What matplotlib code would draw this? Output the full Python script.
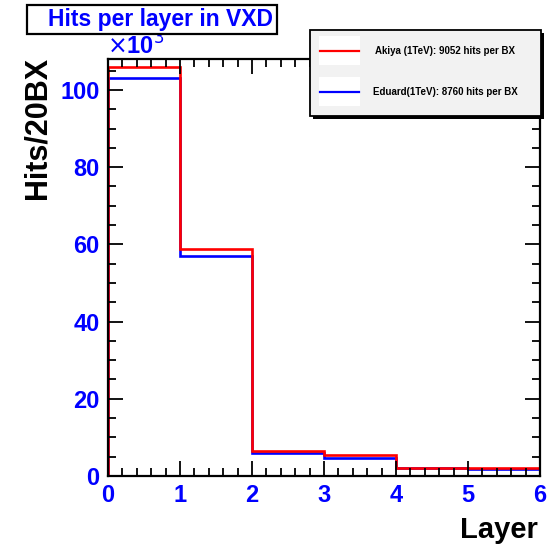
import matplotlib
matplotlib.use("Agg")
import matplotlib.pyplot as plt
from matplotlib.patches import Rectangle
from matplotlib.lines import Line2D
from matplotlib.ticker import MultipleLocator, AutoMinorLocator

plt.rcParams['font.family'] = ['Liberation Sans', 'DejaVu Sans']

edges = [0, 1, 2, 3, 4, 5, 6]
akiya = [105.8, 58.9, 6.55, 5.45, 2.2, 1.95]      # x10^3
eduard = [103.2, 57.1, 5.9, 4.7, 2.0, 1.8]        # x10^3
labels = ["Akiya (1TeV): 9052 hits per BX", "Eduard(1TeV): 8760 hits per BX"]
colors = ["#ff0000", "#0000ff"]

W, H = 550, 546
fig = plt.figure(figsize=(5.5, 5.46), dpi=100)
ax = fig.add_axes([108 / W, 1 - 476 / H, 432 / W, 417 / H])

ax.stairs(eduard, edges, baseline=0, color=colors[1], lw=1.9)
ax.stairs(akiya, edges, baseline=0, color=colors[0], lw=1.9)

ax.set_xlim(0, 6)
ax.set_ylim(0, 108)
ax.xaxis.set_major_locator(MultipleLocator(1))
ax.xaxis.set_minor_locator(AutoMinorLocator(5))
ax.yaxis.set_major_locator(MultipleLocator(20))
ax.yaxis.set_minor_locator(AutoMinorLocator(4))
ax.tick_params(which='both', direction='in', top=True, right=True, width=1.3, color='black')
ax.tick_params(which='major', length=11)
ax.tick_params(which='minor', length=5.5)
ax.tick_params(axis='both', labelsize=17, labelcolor='#0000ff', pad=6)
for lab in ax.get_xticklabels() + ax.get_yticklabels():
    lab.set_fontweight('bold')
for s in ax.spines.values():
    s.set_linewidth(1.6)

ax.text(-0.003, 1 + 4 / 417, r"$\times$10$^{3}$", transform=ax.transAxes, color='#0000ff',
        fontsize=17, fontweight='bold', ha='left', va='baseline')

fig.text(538 / W, 1 - 530 / H, "Layer", fontsize=21, fontweight='bold', ha='right', va='center')
fig.text(37 / W, 1 - 128 / H, "Hits/20BX", fontsize=22, fontweight='bold', rotation=90,
         ha='center', va='center')

# title box
fig.patches.append(Rectangle((27 / W, 1 - 34 / H), 250 / W, 29 / H, transform=fig.transFigure,
                             facecolor='white', edgecolor='black', lw=1.6, zorder=5))
fig.text(160 / W, 1 - 19.5 / H, "Hits per layer in VXD", color='#0000ff', fontsize=16.5,
         fontweight='bold', ha='center', va='center', zorder=6)

# legend box with shadow
fig.patches.append(Rectangle((313 / W, 1 - 119 / H), 231 / W, 86 / H, transform=fig.transFigure,
                             facecolor='black', edgecolor='black', lw=0, zorder=5))
fig.patches.append(Rectangle((310 / W, 1 - 116 / H), 231 / W, 86 / H, transform=fig.transFigure,
                             facecolor='#f2f2f2', edgecolor='black', lw=1.3, zorder=6))
ys = [51, 92]
for y, lab, c in zip(ys, labels, colors):
    fig.patches.append(Rectangle((319 / W, 1 - (y + 14) / H), 41 / W, 29 / H,
                                 transform=fig.transFigure, facecolor='white', lw=0, zorder=7))
    fig.lines.append(Line2D([320 / W, 359 / W], [1 - y / H, 1 - y / H], transform=fig.transFigure,
                            color=c, lw=1.6, zorder=8))
    fig.text(445 / W, 1 - y / H, lab, fontsize=7, fontweight='bold', ha='center', va='center',
             zorder=8)

fig.savefig("out.png", dpi=100)
